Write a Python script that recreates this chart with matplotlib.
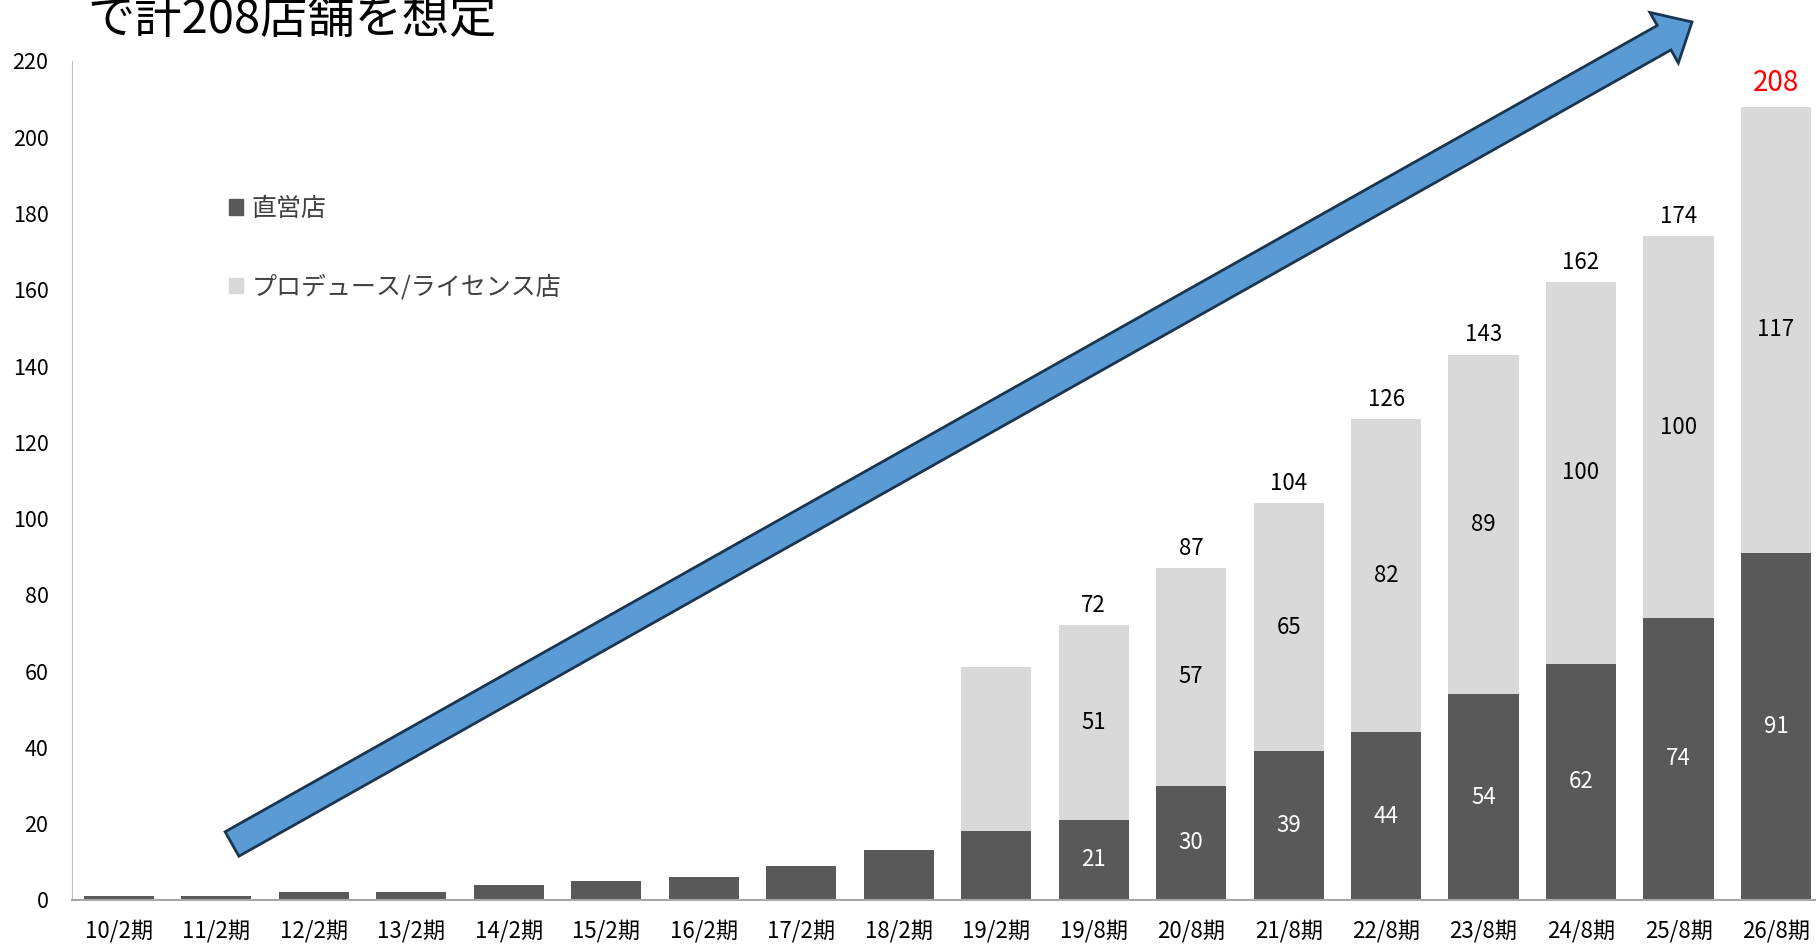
import matplotlib
matplotlib.use('Agg')
import matplotlib.pyplot as plt
from matplotlib.patches import FancyArrow, Patch
import numpy as np

plt.rcParams['font.family'] = ['Noto Sans CJK JP', 'DejaVu Sans']

periods = ['10/2期', '11/2期', '12/2期', '13/2期', '14/2期', '15/2期', '16/2期', '17/2期', '18/2期',
           '19/2期', '19/8期', '20/8期', '21/8期', '22/8期', '23/8期', '24/8期', '25/8期', '26/8期']
direct = [1, 1, 2, 2, 4, 5, 6, 9, 13, 18, 21, 30, 39, 44, 54, 62, 74, 91]
license_ = [0, 0, 0, 0, 0, 0, 0, 0, 0, 43, 51, 57, 65, 82, 89, 100, 100, 117]
# which bars get printed labels (from index 10 on)
label_from = 10

dark = '#595959'
light = '#D9D9D9'

fig = plt.figure(figsize=(18.16, 9.48), dpi=100)
ax = fig.add_axes([72 / 1816, 48 / 948, 1 - 72 / 1816, 839 / 948])

x = np.arange(len(periods))
b1 = ax.bar(x, direct, width=0.72, color=dark, label='直営店')
b2 = ax.bar(x, license_, width=0.72, bottom=direct, color=light, label='プロデュース/ライセンス店')

totals = [d + l for d, l in zip(direct, license_)]
for i in range(label_from, len(periods)):
    ax.text(x[i], direct[i] / 2, str(direct[i]), ha='center', va='center', color='white', fontsize=16)
    ax.text(x[i], direct[i] + license_[i] / 2, str(license_[i]), ha='center', va='center',
            color='black', fontsize=16)
    last = i == len(periods) - 1
    ax.annotate(str(totals[i]), (x[i], totals[i]), xytext=(0, 6), textcoords='offset points',
                ha='center', va='bottom', fontsize=20 if last else 16,
                color='red' if last else 'black')

ax.set_xlim(-0.48, 17.41)
ax.set_ylim(0, 220)
ax.set_yticks(range(0, 221, 20))
ax.set_xticks(x)
ax.set_xticklabels(periods, fontsize=16)
ax.tick_params(axis='both', length=0)
ax.tick_params(axis='x', pad=14)
ax.tick_params(axis='y', pad=17)
for lab in ax.get_yticklabels():
    lab.set_fontsize(15.5)

for s in ['top', 'right']:
    ax.spines[s].set_visible(False)
ax.spines['left'].set_color('#BFBFBF')
ax.spines['bottom'].set_color('#A6A6A6')
ax.spines['bottom'].set_linewidth(1.5)

leg = ax.legend(handles=[Patch(color=dark), Patch(color=light)],
                labels=['直営店', 'プロデュース/ライセンス店'],
                loc='upper left', bbox_to_anchor=(0.077, 0.866), frameon=False,
                fontsize=18, handlelength=0.56, handleheight=0.56, handletextpad=0.35,
                labelspacing=2.1, labelcolor='#404040')

# big blue trend arrow (figure inches)
x0, y0 = 232 / 100, (948 - 844) / 100
x1, y1 = 1692 / 100, (948 - 22) / 100
arr = FancyArrow(x0, y0, x1 - x0, y1 - y0, width=0.28, head_width=0.58, head_length=0.32,
                 length_includes_head=True, transform=fig.dpi_scale_trans,
                 facecolor='#5B9BD5', edgecolor='#1A3550', linewidth=2)
fig.add_artist(arr)

fig.text(87 / 1816, 1 - 20 / 948, 'で計208店舗を想定', fontsize=34, va='center', ha='left', color='black')

fig.savefig('out.png', dpi=100)
